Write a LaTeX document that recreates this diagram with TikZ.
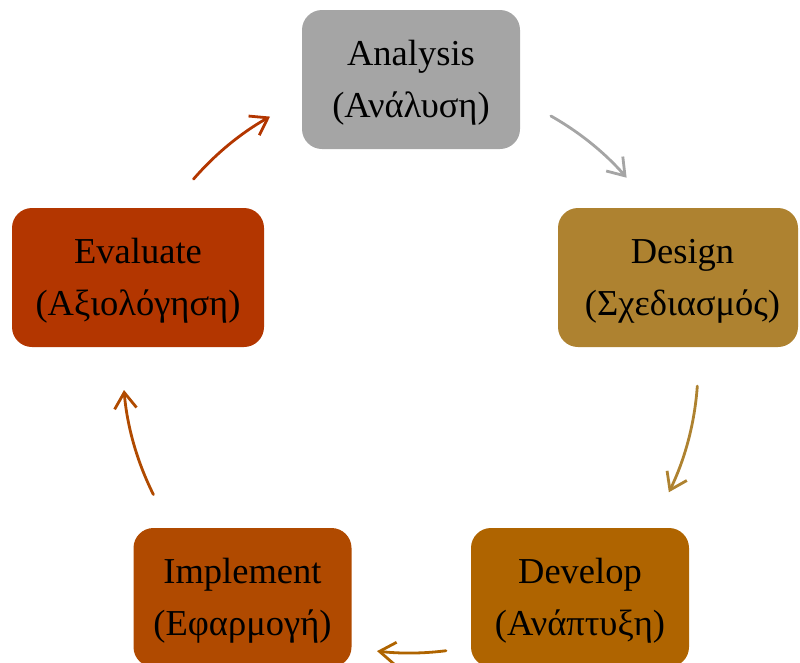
\documentclass[tikz,border=0pt]{standalone}
\usepackage{fontspec}
\setmainfont{Liberation Serif}
\usetikzlibrary{arrows.meta}
\definecolor{cAna}{HTML}{A5A5A5}
\definecolor{cDes}{HTML}{AE8230}
\definecolor{cDev}{HTML}{AF6400}
\definecolor{cImp}{HTML}{B04A00}
\definecolor{cEva}{HTML}{B33600}
\newcommand{\topstrut}{\rule{0pt}{31pt}}
\tikzset{
  stepbox/.style={rounded corners=20pt, minimum height=139pt, align=center,
    inner sep=0pt, text=black, font=\fontsize{36.5}{52}\selectfont},
  cyc/.style={line width=2.8pt, line cap=round,
    -{Straight Barb[length=16pt,width=22pt,line width=2.8pt]}},
}
\begin{document}
\begin{tikzpicture}[x=1pt,y=1pt]
\useasboundingbox (0,0) rectangle (800,-662);
\clip (0,0) rectangle (800,-662);
\coordinate (c) at (410,-366);
\node[stepbox, fill=cAna, minimum width=218pt] (analysis) at (411,-79.5) {\topstrut Analysis\\(Ανάλυση)};
\node[stepbox, fill=cDes, minimum width=240pt] (design) at (678,-277.5) {\topstrut\hspace*{9pt}Design\\\hspace*{9pt}(Σχεδιασμός)};
\node[stepbox, fill=cDev, minimum width=218pt] (develop) at (580,-597.5) {\topstrut Develop\\(Ανάπτυξη)};
\node[stepbox, fill=cImp, minimum width=218pt] (implement) at (242.5,-597.5) {\topstrut Implement\\(Εφαρμογή)};
\node[stepbox, fill=cEva, minimum width=252pt] (evaluate) at (138,-277.5) {\topstrut Evaluate\\(Αξιολόγηση)};
\draw[cyc, cAna] ([shift={(60.6:287)}]c) arc[start angle=60.6, end angle=41, radius=287];
\draw[cyc, cDes] ([shift={(-4:288)}]c) arc[start angle=-4, end angle=-26, radius=288];
\draw[cyc, cDev] ([shift={(-82.8:287)}]c) arc[start angle=-82.8, end angle=-96.6, radius=287];
\draw[cyc, cImp] ([shift={(206.6:287)}]c) arc[start angle=206.6, end angle=184.8, radius=287];
\draw[cyc, cEva] ([shift={(139.2:286)}]c) arc[start angle=139.2, end angle=119.3, radius=286];
\end{tikzpicture}
\end{document}
